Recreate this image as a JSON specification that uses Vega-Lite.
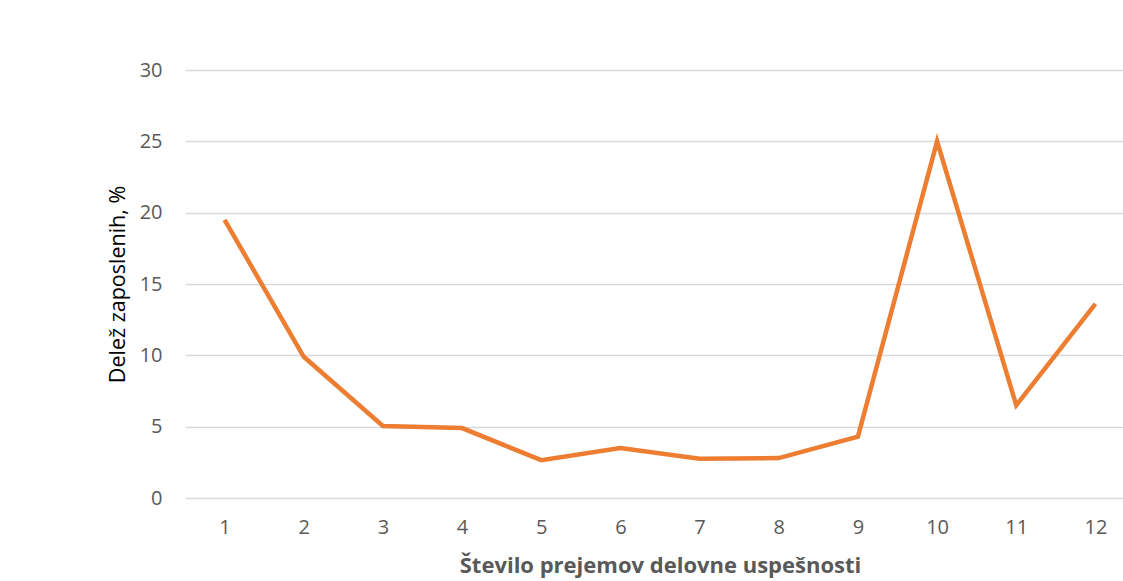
{
  "$schema": "https://vega.github.io/schema/vega-lite/v6.json",
  "autosize": "none",
  "width": 950,
  "height": 428,
  "padding": {"left": 185, "top": 70, "right": 0, "bottom": 83},
  "background": "white",
  "config": {
    "view": {"stroke": null},
    "font": "Open Sans"
  },
  "data": {
    "values": [
      {"n": "1", "v": 19.5},
      {"n": "2", "v": 9.9},
      {"n": "3", "v": 5.05},
      {"n": "4", "v": 4.9},
      {"n": "5", "v": 2.65},
      {"n": "6", "v": 3.5},
      {"n": "7", "v": 2.75},
      {"n": "8", "v": 2.8},
      {"n": "9", "v": 4.3},
      {"n": "10", "v": 25.0},
      {"n": "11", "v": 6.5},
      {"n": "12", "v": 13.6}
    ]
  },
  "mark": {"type": "line", "color": "#ED7D31", "strokeWidth": 4.5, "strokeJoin": "miter"},
  "encoding": {
    "x": {
      "field": "n",
      "type": "ordinal",
      "sort": null,
      "scale": {"type": "point", "padding": 0.5},
      "axis": {
        "title": "Število prejemov delovne uspešnosti",
        "titleFont": "Open Sans",
        "titleFontSize": 22,
        "titleFontWeight": "bold",
        "titleColor": "#595959",
        "titlePadding": 18,
        "labelAngle": 0,
        "labelFontSize": 20,
        "labelColor": "#595959",
        "labelPadding": 19,
        "ticks": false,
        "domain": false,
        "grid": false
      }
    },
    "y": {
      "field": "v",
      "type": "quantitative",
      "scale": {"domain": [0, 30], "nice": false},
      "axis": {
        "title": "Delež zaposlenih, %",
        "titleFont": "Open Sans",
        "titleFontSize": 21.5,
        "titleFontWeight": "normal",
        "titleColor": "#000000",
        "titlePadding": 10,
        "values": [0, 5, 10, 15, 20, 25, 30],
        "labelFontSize": 20,
        "labelColor": "#595959",
        "labelPadding": 23,
        "ticks": false,
        "domain": false,
        "grid": true,
        "gridColor": "#d9d9d9",
        "gridWidth": 1.5
      }
    }
  }
}
